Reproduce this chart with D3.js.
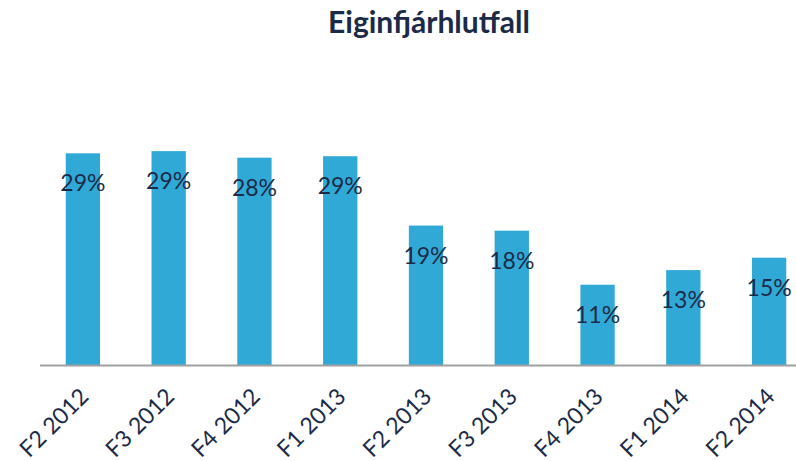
<!DOCTYPE html>
<html><head><meta charset="utf-8">
<script src="https://cdn.jsdelivr.net/npm/d3@7"></script>
<style>body{margin:0;background:#fff;}svg{display:block;}</style>
</head><body>
<svg id="chart" width="796" height="461"></svg>
<script>
const categories = ["F2 2012","F3 2012","F4 2012","F1 2013","F2 2013","F3 2013","F4 2013","F1 2014","F2 2014"];
const values = [29.0, 29.3, 28.4, 28.6, 19.1, 18.4, 11.0, 13.0, 14.7];
const title = "Eiginfjárhlutfall";

const svg = d3.select("#chart");
const navy = "#1b2b47";
const x = d3.scaleBand().domain(categories).range([40, 812]).paddingInner(0.6).paddingOuter(0.3);
const y = d3.scaleLinear().domain([0, 35]).range([365, 109.5]);

svg.append("text").attr("x", 429).attr("y", 33).attr("text-anchor","middle")
  .attr("font-family","Lato").attr("font-weight","bold").attr("font-size",30)
  .attr("fill", navy).text(title);

svg.selectAll("rect.bar").data(values).join("rect").attr("class","bar")
  .attr("x",(d,i)=>x(categories[i])).attr("width",x.bandwidth())
  .attr("y",d=>y(d)).attr("height",d=>y(0)-y(d)).attr("fill","#31a9d7");

svg.selectAll("text.lbl").data(values).join("text").attr("class","lbl")
  .attr("x",(d,i)=>x(categories[i])+x.bandwidth()/2).attr("y",d=>y(d)+38)
  .attr("text-anchor","middle").attr("font-family","Lato").attr("font-size",23)
  .attr("fill", navy).text(d=>Math.round(d)+"%");

const axis = svg.append("g").attr("transform","translate(0,365)")
  .call(d3.axisBottom(x).tickSize(0).tickPadding(0));
axis.select(".domain").attr("d","M40,0.5H796").attr("stroke","#a0a0a0").attr("stroke-width",2);
axis.selectAll(".tick text").attr("font-family","Lato").attr("font-size",23).attr("fill",navy)
  .attr("text-anchor","end").attr("dy",null).attr("y",0)
  .attr("transform","translate(7,33) rotate(-45)");
</script>
</body></html>
